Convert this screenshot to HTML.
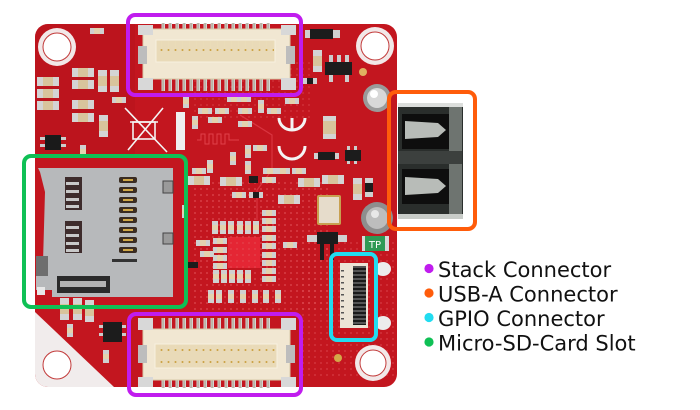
<!DOCTYPE html>
<html><head><meta charset="utf-8"><style>
html,body{margin:0;padding:0;background:#fff;width:700px;height:410px;overflow:hidden}
svg{display:block}
</style></head><body>
<svg width="700" height="410" viewBox="0 0 700 410" xmlns="http://www.w3.org/2000/svg">
<defs>
 <clipPath id="bc"><rect x="35" y="24" width="362" height="363" rx="13"/></clipPath>
 <pattern id="via" width="6" height="6" patternUnits="userSpaceOnUse"><circle cx="3" cy="3" r="0.9" fill="#e4555c"/></pattern>
 <pattern id="pin" x="160" width="7" height="14" patternUnits="userSpaceOnUse"><rect x="1.5" width="3.5" height="14" fill="#d4d4d4"/><rect x="2.3" y="0" width="1.6" height="14" fill="#b8b0a0"/></pattern>
 <pattern id="gd" x="158" width="7" height="30" patternUnits="userSpaceOnUse"><circle cx="3.5" cy="2" r="1" fill="#c9a040"/><rect x="3" y="3" width="1" height="16" fill="#eadcb8"/><circle cx="3.5" cy="20" r="1" fill="#c9a040"/></pattern>
 <pattern id="gp" width="4" height="4" patternUnits="userSpaceOnUse"><rect width="4" height="2" fill="#1a1a1a"/><rect y="2" width="4" height="2" fill="#555"/></pattern>
 <g id="rh"><rect width="14" height="6" fill="#d0d0d0"/><rect x="4" width="6" height="6" fill="#e3d2ae"/></g>
 <g id="rv"><rect width="6" height="13" fill="#d0d0d0"/><rect y="4" width="6" height="5" fill="#e3d2ae"/></g>
 <g id="ch"><rect width="22" height="9" fill="#d4d4d4"/><rect x="6" width="10" height="9" fill="#d8c49c"/></g>
 <g id="cv"><rect width="9" height="22" fill="#d4d4d4"/><rect y="6" width="9" height="10" fill="#d8c49c"/></g>
 <g id="bh"><rect width="14" height="6" fill="#d0d0d0"/><rect x="4" width="6" height="6" fill="#1c1c1c"/></g>
</defs>

<rect width="700" height="410" fill="#fff"/>

<!-- BOARD -->
<g clip-path="url(#bc)">
 <rect x="35" y="24" width="362" height="363" fill="#c3161f"/>
 <rect x="190" y="180" width="140" height="130" fill="url(#via)" opacity="0.8"/>
 <rect x="300" y="240" width="97" height="140" fill="url(#via)" opacity="0.6"/>
 <rect x="190" y="60" width="120" height="60" fill="url(#via)" opacity="0.5"/>
 <!-- darker regions -->
 <rect x="35" y="24" width="100" height="130" fill="#b5121b" opacity="0.5"/>
 <!-- bottom-left white triangle -->
 <polygon points="35,312 114,387 35,387" fill="#f1ecec"/>
 <!-- traces -->
 <path d="M197,140 h4 v-6 h4 v10 h4 v-10 h4 v10 h4 v-10 h4 v10 h4 v-10 h4 v6 h10" fill="none" stroke="#e0404a" stroke-width="1"/>
 <path d="M240,115 L272,135 L272,170 L257,190 L257,220" fill="none" stroke="#d93540" stroke-width="1.2"/>
 <!-- center chip -->
 <rect x="228" y="237" width="32" height="31" fill="#e42634"/>
 <rect x="228" y="237" width="32" height="31" fill="url(#via)" opacity="0.6"/>
 <rect x="397" y="265" width="6" height="62" fill="#8a8a8a"/>
</g>

<!-- mounting holes -->
<circle cx="57" cy="47" r="19" fill="#f2e8e8"/><circle cx="57" cy="47" r="14" fill="#fff" stroke="#c23a3a" stroke-width="1"/>
<circle cx="375" cy="46" r="19" fill="#f2e8e8"/><circle cx="375" cy="46" r="14" fill="#fff" stroke="#c23a3a" stroke-width="1"/>
<circle cx="57" cy="365" r="14" fill="#fff" stroke="#c23a3a" stroke-width="1"/>
<circle cx="373" cy="363" r="18" fill="#f2e8e8"/><circle cx="373" cy="363" r="13" fill="#fff" stroke="#c23a3a" stroke-width="1"/>

<!-- silkscreen -->
<g stroke="#f4f4f4" stroke-width="1.6" fill="none">
 <path d="M125,108 L167,152 M163,108 L128,150"/>
 <rect x="133" y="122" width="22" height="17"/>
 <path d="M130,122 h28"/>
 <path d="M279,118 A13,12 0 0 0 305,118" stroke-width="3"/>
 <path d="M292,118 V131" stroke-width="3"/>
 <path d="M279,146 A13,13 0 0 0 305,146" stroke-width="3"/>
</g>
<rect x="176" y="112" width="9" height="38" fill="#efefef"/>

<!-- small components left -->
<use href="#ch" x="37" y="77"/><use href="#ch" x="37" y="89"/><use href="#ch" x="37" y="101"/>
<use href="#ch" x="72" y="68"/><use href="#ch" x="72" y="80"/><use href="#ch" x="72" y="100"/><use href="#ch" x="72" y="113"/>
<use href="#cv" x="98" y="70"/><use href="#cv" x="110" y="70"/>
<use href="#rh" x="112" y="97"/><use href="#rh" x="90" y="28"/>
<use href="#cv" x="99" y="115"/><use href="#rv" x="80" y="145"/>
<rect x="45" y="135" width="16" height="15" fill="#1a1a1a"/><rect x="40" y="137" width="5" height="3" fill="#ccc"/><rect x="61" y="137" width="5" height="3" fill="#ccc"/><rect x="40" y="144" width="5" height="3" fill="#ccc"/><rect x="61" y="144" width="5" height="3" fill="#ccc"/>

<!-- small components center -->
<use href="#rh" x="198" y="108"/><use href="#rh" x="215" y="108"/><use href="#rh" x="238" y="108"/><use href="#rh" x="267" y="108"/>
<use href="#rv" x="192" y="116"/><use href="#rh" x="208" y="117"/><use href="#rh" x="238" y="121"/>
<use href="#rh" x="227" y="96"/><use href="#rh" x="237" y="96"/><use href="#rv" x="258" y="100"/><use href="#rv" x="183" y="95"/>
<use href="#rh" x="285" y="98"/>
<use href="#rv" x="245" y="145"/><use href="#rh" x="253" y="145"/><use href="#rv" x="230" y="152"/><use href="#rv" x="207" y="160"/><use href="#rv" x="245" y="161"/>
<use href="#rh" x="192" y="168"/><use href="#rh" x="263" y="168"/><use href="#rh" x="276" y="168"/><use href="#rh" x="292" y="168"/>
<use href="#ch" x="188" y="176"/><use href="#ch" x="220" y="177"/><rect x="249" y="176" width="9" height="7" fill="#1c1c1c"/>
<use href="#rh" x="262" y="177"/><use href="#ch" x="298" y="178"/><use href="#ch" x="322" y="175"/>
<use href="#cv" x="353" y="178"/>
<g><rect x="365" y="178" width="8" height="19" fill="#d0d0d0"/><rect x="365" y="183" width="8" height="9" fill="#1c1c1c"/></g>
<use href="#rh" x="232" y="192"/><use href="#bh" x="249" y="192"/><use href="#ch" x="278" y="195"/>
<use href="#rh" x="200" y="251"/><rect x="188" y="262" width="10" height="6" fill="#1c1c1c"/>
<use href="#rh" x="283" y="242"/>
<!-- chip surround -->
<use href="#rv" x="212" y="221"/><use href="#rv" x="220" y="221"/><use href="#rv" x="228" y="221"/><use href="#rv" x="237" y="221"/><use href="#rv" x="245" y="221"/><use href="#rv" x="253" y="221"/>
<use href="#rh" x="213" y="238"/><use href="#rh" x="213" y="247"/><use href="#rh" x="213" y="255"/><use href="#rh" x="213" y="263"/>
<use href="#rh" x="262" y="210"/><use href="#rh" x="262" y="218"/><use href="#rh" x="262" y="226"/><use href="#rh" x="262" y="235"/><use href="#rh" x="262" y="243"/><use href="#rh" x="262" y="252"/><use href="#rh" x="262" y="260"/><use href="#rh" x="262" y="268"/><use href="#rh" x="262" y="276"/>
<use href="#rv" x="213" y="270"/><use href="#rv" x="221" y="270"/><use href="#rv" x="229" y="270"/><use href="#rv" x="237" y="270"/><use href="#rv" x="245" y="270"/>
<use href="#rv" x="208" y="290"/><use href="#rv" x="216" y="290"/><use href="#rv" x="228" y="290"/><use href="#rv" x="240" y="290"/><use href="#rv" x="252" y="290"/><use href="#rv" x="263" y="290"/><use href="#rv" x="275" y="290"/>
<use href="#rv" x="182" y="205"/><use href="#rh" x="196" y="240"/>

<!-- top-right components -->
<rect x="305" y="30" width="35" height="8" fill="#d0d0d0"/><rect x="310" y="29" width="23" height="10" fill="#1c1c1c"/>
<use href="#cv" x="313" y="50"/>
<rect x="329" y="55" width="4" height="8" fill="#ccc"/><rect x="337" y="55" width="4" height="8" fill="#ccc"/><rect x="345" y="55" width="4" height="8" fill="#ccc"/>
<rect x="329" y="74" width="4" height="8" fill="#ccc"/><rect x="345" y="74" width="4" height="8" fill="#ccc"/>
<rect x="325" y="62" width="27" height="13" fill="#1c1c1c"/>
<use href="#bh" x="303" y="78"/>
<circle cx="363" cy="72" r="4" fill="#e0b060"/>
<circle cx="377" cy="98" r="14" fill="#9a9a9a"/><circle cx="377" cy="98" r="10" fill="#d8d8d8"/><circle cx="374" cy="94" r="4" fill="#fff"/>
<g><rect x="323" y="116" width="13" height="23" fill="#d4d4d4"/><rect x="323" y="121" width="13" height="13" fill="#d8c49c"/></g>
<!-- middle right -->
<rect x="314" y="153" width="25" height="6" fill="#d0d0d0"/><rect x="318" y="152" width="17" height="8" fill="#1c1c1c"/>
<rect x="347" y="146" width="3" height="18" fill="#ccc"/><rect x="354" y="146" width="3" height="18" fill="#ccc"/><rect x="345" y="150" width="16" height="11" fill="#1c1c1c"/>
<!-- crystal -->
<rect x="317" y="195" width="24" height="30" rx="2" fill="#c8a050"/><rect x="319" y="197" width="20" height="26" fill="#e6dccb"/>
<circle cx="377" cy="218" r="16" fill="#8e8e8e"/><circle cx="377" cy="218" r="11" fill="#bdbdbd"/><circle cx="375" cy="214" r="4" fill="#e8e8e8"/>
<rect x="307" y="235" width="40" height="7" fill="#d0d0d0"/><rect x="317" y="232" width="21" height="12" fill="#1c1c1c"/>
<rect x="320" y="244" width="4" height="16" fill="#1c1c1c"/><rect x="330" y="244" width="4" height="16" fill="#1c1c1c"/>
<!-- TP -->
<rect x="362" y="236" width="27" height="15" fill="#d8d8d8"/><rect x="365" y="236" width="20" height="15" fill="#2e9a55"/>
<text x="375" y="248" font-family="DejaVu Sans, sans-serif" font-size="10" fill="#fff" text-anchor="middle">TP</text>
<!-- white pads right of gpio -->
<ellipse cx="383" cy="269" rx="8" ry="7" fill="#ececec"/>
<ellipse cx="383" cy="323" rx="8" ry="7" fill="#ececec"/>
<circle cx="338" cy="358" r="4" fill="#d4a848"/>

<!-- bottom-left components -->
<use href="#cv" x="60" y="298"/><use href="#cv" x="73" y="298"/><use href="#cv" x="85" y="300"/>
<use href="#rv" x="67" y="324"/><use href="#rv" x="103" y="350"/>
<rect x="99" y="325" width="4" height="3" fill="#ccc"/><rect x="99" y="333" width="4" height="3" fill="#ccc"/><rect x="122" y="325" width="4" height="3" fill="#ccc"/><rect x="122" y="333" width="4" height="3" fill="#ccc"/>
<rect x="103" y="322" width="19" height="20" fill="#1c1c1c"/>

<!-- SD CARD -->
<polygon points="38,168 173,168 173,297 52,297 52,290 36,290 36,275 43,262 45,192 40,172" fill="#b7b9bb"/>
<rect x="36" y="256" width="12" height="20" fill="#6e6e6e"/>
<rect x="65" y="177" width="17" height="33" fill="#3e2c2c"/>
<rect x="66" y="182" width="13" height="3" fill="#c8c8c8"/><rect x="66" y="190" width="13" height="3" fill="#c8c8c8"/><rect x="66" y="198" width="13" height="3" fill="#c8c8c8"/><rect x="66" y="205" width="13" height="3" fill="#c8c8c8"/>
<rect x="65" y="221" width="17" height="32" fill="#3e2c2c"/>
<rect x="66" y="226" width="13" height="3" fill="#c8c8c8"/><rect x="66" y="234" width="13" height="3" fill="#c8c8c8"/><rect x="66" y="242" width="13" height="3" fill="#c8c8c8"/><rect x="66" y="249" width="13" height="3" fill="#c8c8c8"/>
<g fill="#3a2c22">
 <rect x="119" y="177" width="18" height="6" rx="2"/><rect x="119" y="187" width="18" height="6" rx="2"/><rect x="119" y="197" width="18" height="6" rx="2"/><rect x="119" y="207" width="18" height="6" rx="2"/>
 <rect x="119" y="217" width="18" height="6" rx="2"/><rect x="119" y="227" width="18" height="6" rx="2"/><rect x="119" y="237" width="18" height="6" rx="2"/><rect x="119" y="247" width="18" height="6" rx="2"/>
</g>
<g fill="#d0a848">
 <rect x="123" y="179" width="10" height="2"/><rect x="123" y="189" width="10" height="2"/><rect x="123" y="199" width="10" height="2"/><rect x="123" y="209" width="10" height="2"/>
 <rect x="123" y="219" width="10" height="2"/><rect x="123" y="229" width="10" height="2"/><rect x="123" y="239" width="10" height="2"/><rect x="123" y="249" width="10" height="2"/>
</g>
<rect x="112" y="259" width="25" height="3" fill="#333"/>
<rect x="163" y="181" width="10" height="12" fill="#9a9a9a" stroke="#444" stroke-width="1"/>
<rect x="163" y="233" width="10" height="11" fill="#9a9a9a" stroke="#444" stroke-width="1"/>
<rect x="57" y="276" width="53" height="17" fill="#2a2a2a"/>
<rect x="60" y="281" width="46" height="6" fill="#b2b2b2"/>
<rect x="37" y="287" width="8" height="8" fill="#e8e8e8"/>

<!-- TOP STACK CONNECTOR -->
<rect x="160" y="23" width="112" height="9" fill="url(#pin)"/>
<rect x="160" y="78" width="112" height="13" fill="url(#pin)"/>
<rect x="143" y="29" width="147" height="50" fill="#f1e7d2" stroke="#d8caa8" stroke-width="1"/>
<rect x="138" y="25" width="15" height="10" fill="#d8d8d8"/><rect x="281" y="25" width="15" height="10" fill="#d8d8d8"/>
<rect x="138" y="78" width="15" height="12" fill="#d8d8d8"/><rect x="281" y="78" width="15" height="12" fill="#d8d8d8"/>
<rect x="138" y="46" width="9" height="18" fill="#bdbdbd"/><rect x="286" y="46" width="9" height="18" fill="#bdbdbd"/>
<rect x="156" y="40" width="119" height="22" fill="#e9dab8" stroke="#f8f0e0" stroke-width="1"/>
<rect x="157" y="41" width="117" height="20" fill="url(#gd)"/>

<!-- BOTTOM STACK CONNECTOR -->
<rect x="160" y="318" width="112" height="13" fill="url(#pin)"/>
<rect x="160" y="378" width="112" height="10" fill="url(#pin)"/>
<rect x="143" y="329" width="147" height="51" fill="#f1e7d2" stroke="#d8caa8" stroke-width="1"/>
<rect x="138" y="318" width="15" height="12" fill="#d8d8d8"/><rect x="281" y="318" width="15" height="12" fill="#d8d8d8"/>
<rect x="138" y="377" width="15" height="10" fill="#d8d8d8"/><rect x="281" y="377" width="15" height="10" fill="#d8d8d8"/>
<rect x="138" y="345" width="9" height="18" fill="#bdbdbd"/><rect x="286" y="345" width="9" height="18" fill="#bdbdbd"/>
<rect x="155" y="344" width="122" height="24" fill="#e9dab8" stroke="#f8f0e0" stroke-width="1"/>
<rect x="157" y="345" width="118" height="22" fill="url(#gd)"/>

<!-- USB-A -->
<rect x="398" y="103" width="65" height="116" fill="#2a2e2c"/>
<rect x="398" y="103" width="65" height="4" fill="#dcdedc"/>
<rect x="449" y="107" width="13" height="110" fill="#6e7470"/>
<rect x="402" y="114" width="47" height="35" fill="#0e0e0e"/>
<polygon points="405,121 438,123 446,130 438,137 405,139" fill="#b8bcb8"/>
<rect x="398" y="151" width="64" height="13" fill="#3c403e"/>
<rect x="402" y="169" width="47" height="35" fill="#0e0e0e"/>
<polygon points="405,177 438,179 446,186 438,193 405,195" fill="#b8bcb8"/>
<rect x="398" y="214" width="65" height="5" fill="#c8ccc8"/>

<!-- GPIO -->
<rect x="340" y="263" width="28" height="65" fill="#ece4d6"/>
<rect x="353" y="266" width="13" height="59" fill="url(#gp)"/>
<g fill="#555"><rect x="341" y="270" width="3" height="1.5"/><rect x="341" y="276" width="3" height="1.5"/><rect x="341" y="282" width="3" height="1.5"/><rect x="341" y="288" width="3" height="1.5"/><rect x="341" y="294" width="3" height="1.5"/><rect x="341" y="300" width="3" height="1.5"/><rect x="341" y="306" width="3" height="1.5"/><rect x="341" y="312" width="3" height="1.5"/><rect x="341" y="318" width="3" height="1.5"/></g>

<!-- ANNOTATION BOXES -->
<g fill="none" stroke-width="4">
 <rect x="128" y="15" width="173" height="80" rx="7" stroke="#c01cee"/>
 <rect x="129" y="314" width="172" height="81" rx="7" stroke="#c01cee"/>
 <rect x="24" y="156" width="162" height="151" rx="7" stroke="#0fc055"/>
 <rect x="389" y="92" width="86" height="137" rx="7" stroke="#ff5c0a"/>
 <rect x="331" y="254" width="45" height="86" rx="6" stroke="#22dcf0"/>
</g>

<!-- LEGEND -->
<circle cx="429" cy="268.5" r="4.6" fill="#c01cee"/>
<circle cx="429" cy="293" r="4.6" fill="#ff5c0a"/>
<circle cx="429" cy="317.5" r="4.6" fill="#22dcf0"/>
<circle cx="429" cy="342" r="4.6" fill="#0fc055"/>
<g font-family="DejaVu Sans, Liberation Sans, sans-serif" font-size="21" fill="#111">
 <text x="438" y="277">Stack Connector</text>
 <text x="438" y="301.5">USB-A Connector</text>
 <text x="438" y="326">GPIO Connector</text>
 <text x="438" y="350.5">Micro-SD-Card Slot</text>
</g>
</svg>
</body></html>
